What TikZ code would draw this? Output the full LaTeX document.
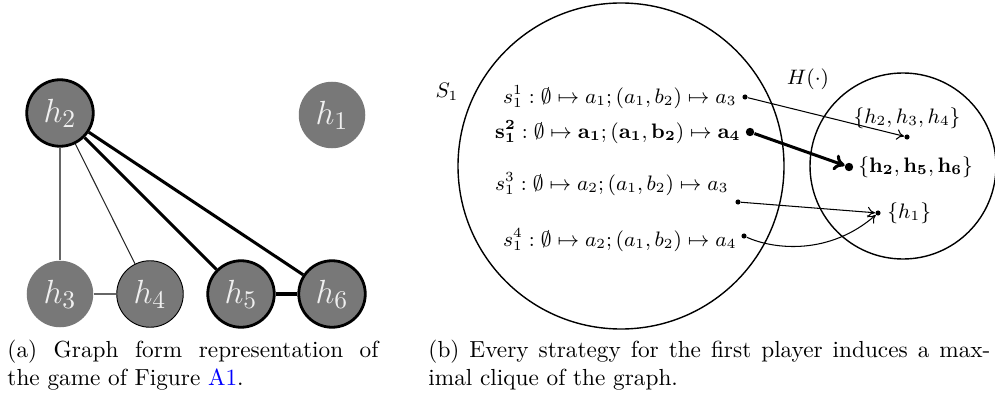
\documentclass[tikz,border=0pt]{standalone}
\usetikzlibrary{arrows.meta}
\definecolor{linkblue}{rgb}{0,0,1}
\begin{document}
\begin{tikzpicture}[x=0.43pt,y=-0.43pt,
  hn/.style={circle,fill=black!53,minimum size=28.6pt,inner sep=0pt,text=black!6,font=\fontsize{15.5}{18}\selectfont},
  hthick/.style={draw=black,line width=1.2pt},
  hthin/.style={draw=black,line width=0.4pt},
  thinedge/.style={line width=0.45pt},
  boldedge/.style={line width=1.3pt},
  setc/.style={line width=0.6pt},
  dotn/.style={circle,fill=black,inner sep=0pt,minimum size=2.2pt},
  bdotn/.style={circle,fill=black,inner sep=0pt,minimum size=3.6pt},
  lbl/.style={inner sep=0pt,font=\fontsize{8.8}{10.5}\selectfont},
  arr/.style={-{To[length=3.2pt,width=4.6pt]},line width=0.45pt},
  barr/.style={-{To[length=4.5pt,width=7pt]},line width=1.3pt},
  capt/.style={inner sep=0pt,anchor=north west,align=justify,font=\fontsize{10}{12}\selectfont}
]
\useasboundingbox (0,0) rectangle (995,408);
% ---- graph (a)
\node[hn,hthick] (h2) at (60,113) {$h_2$};
\node[hn] (h1) at (332,115) {$h_1$};
\node[hn] (h3) at (60,294) {$h_3$};
\node[hn,hthin] (h4) at (150,294) {$h_4$};
\node[hn,hthick] (h5) at (241,294) {$h_5$};
\node[hn,hthick] (h6) at (332,294) {$h_6$};
\draw[thinedge,black!60] (h2) -- (h3);
\draw[thinedge,black!60] (h3) -- (h4);
\draw[thinedge,black!85] (h2) -- (h4);
\draw[boldedge] (h2) -- (h5);
\draw[boldedge] (h2) -- (h6);
\draw[boldedge] (h5) -- (h6);
% ---- (b)
\coordinate (Sc) at (621,166);
\coordinate (Hc) at (903,166);
\draw[setc] (Sc) circle[radius=163];
\draw[setc] (Hc) circle[radius=93];
\node[lbl] (Slab) at (447,92) {$S_1$};
\node[lbl] (Hlab) at (808,79) {$H(\cdot)$};
\node[lbl,anchor=east] (s1) at (737,97) {$s_1^1:\emptyset\mapsto a_1;(a_1,b_2)\mapsto a_3$};
\node[lbl,anchor=east] (s2) at (741,132) {$\mathbf{s_1^2}:\emptyset\mapsto \mathbf{a_1};\mathbf{(a_1,b_2)}\mapsto \mathbf{a_4}$};
\node[lbl,anchor=east] (s3) at (729,184) {$s_1^3:\emptyset\mapsto a_2;(a_1,b_2)\mapsto a_3$};
\node[lbl,anchor=east] (s4) at (737,240) {$s_1^4:\emptyset\mapsto a_2;(a_1,b_2)\mapsto a_4$};
\node[dotn] (d1) at (745,97) {};
\node[bdotn] (d2) at (750,132) {};
\node[dotn] (d3) at (738,202) {};
\node[dotn] (d4) at (744,236) {};
\node[lbl] (t1lab) at (907,118) {$\{h_2,h_3,h_4\}$};
\node[lbl,anchor=west] (t2lab) at (858,167) {$\{\mathbf{h_2},\mathbf{h_5},\mathbf{h_6}\}$};
\node[lbl,anchor=west] (t3lab) at (887,213) {$\{h_1\}$};
\node[dotn] (t1) at (907,137) {};
\node[bdotn] (t2) at (849,167) {};
\node[dotn] (t3) at (878,213) {};
\draw[arr] (d1) -- (t1);
\draw[barr] (d2) -- (t2);
\draw[arr] (d3) -- (t3);
\draw[arr] (d4) .. controls (775,250) and (830,255) .. (t3);
% ---- captions
\node[capt,text width=371*0.43pt] (capa) at (7,340) {(a) Graph form representation of\linebreak the game of Figure \textcolor{linkblue}{A1}.};
\node[capt,text width=562*0.43pt] (capb) at (428,340) {(b) Every strategy for the first player induces a max-\linebreak imal clique of the graph.};
\end{tikzpicture}
\end{document}
